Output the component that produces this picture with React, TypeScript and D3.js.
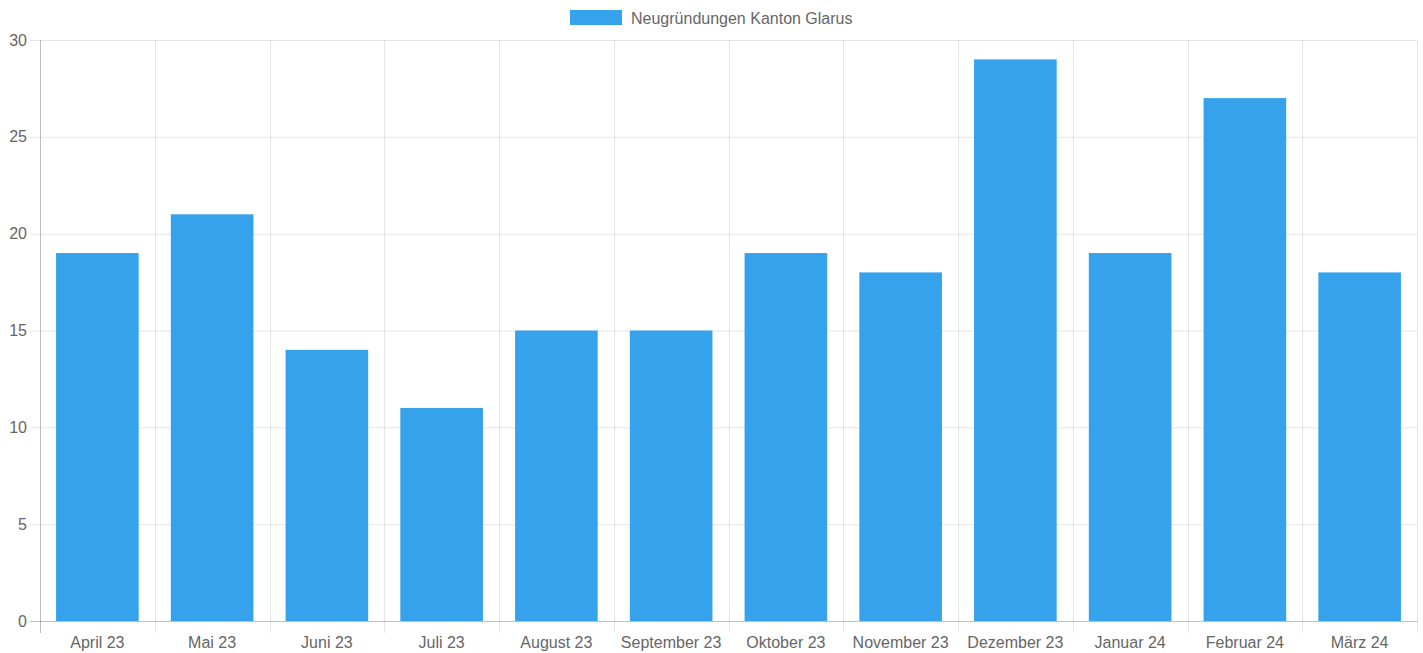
import React, { useEffect, useRef } from 'react';
import * as d3 from 'd3';

const months = ['April 23', 'Mai 23', 'Juni 23', 'Juli 23', 'August 23', 'September 23', 'Oktober 23', 'November 23', 'Dezember 23', 'Januar 24', 'Februar 24', 'März 24'];
const counts = [19, 21, 14, 11, 15, 15, 19, 18, 29, 19, 27, 18];
const yTicks = [0, 5, 10, 15, 20, 25, 30];
const seriesName = 'Neugründungen Kanton Glarus';

const W = 1423;
const H = 653;
const left = 40, right = 1417, top = 40, bottom = 621;
const font = '"Liberation Sans", Arial, Helvetica, sans-serif';

export default function App() {
  const ref = useRef<SVGSVGElement>(null);

  useEffect(() => {
    const svg = d3.select(ref.current);
    svg.selectAll('*').remove();

    const x = d3.scaleBand().domain(months).range([left, right]);
    const y = d3.scaleLinear().domain([0, 30]).range([bottom, top]);

    const g = svg.append('g');

    // grid lines, horizontal
    g.selectAll('line.hgrid')
      .data(yTicks)
      .enter().append('line')
      .attr('x1', left - 10)
      .attr('x2', right)
      .attr('y1', d => y(d) + 0.5)
      .attr('y2', d => y(d) + 0.5)
      .attr('stroke', d => (d === 0 ? 'rgba(0,0,0,0.25)' : 'rgba(0,0,0,0.1)'));

    // grid lines, vertical (category boundaries)
    const bounds = months.map(m => x(m)!).concat([right]);
    g.selectAll('line.vgrid')
      .data(bounds)
      .enter().append('line')
      .attr('x1', d => Math.round(d) + 0.5)
      .attr('x2', d => Math.round(d) + 0.5)
      .attr('y1', top)
      .attr('y2', bottom + 12)
      .attr('stroke', (d, i) => (i === 0 ? 'rgba(0,0,0,0.25)' : 'rgba(0,0,0,0.1)'));

    // bars
    const bw = x.bandwidth() * 0.72;
    g.selectAll('rect.bar')
      .data(counts)
      .enter().append('rect')
      .attr('x', (d, i) => x(months[i])! + (x.bandwidth() - bw) / 2)
      .attr('y', d => y(d))
      .attr('width', bw)
      .attr('height', d => y(0) - y(d))
      .attr('fill', '#36a2eb');

    // y tick labels
    g.selectAll('text.ylab')
      .data(yTicks)
      .enter().append('text')
      .attr('x', left - 13)
      .attr('y', d => y(d) + 5.5)
      .attr('text-anchor', 'end')
      .attr('font-family', font)
      .attr('font-size', 16)
      .attr('fill', '#666')
      .text(d => d);

    // x labels
    g.selectAll('text.xlab')
      .data(months)
      .enter().append('text')
      .attr('x', d => x(d)! + x.bandwidth() / 2)
      .attr('y', bottom + 27)
      .attr('text-anchor', 'middle')
      .attr('font-family', font)
      .attr('font-size', 16)
      .attr('fill', '#666')
      .text(d => d);

    // legend
    g.append('rect')
      .attr('x', 570)
      .attr('y', 10)
      .attr('width', 52)
      .attr('height', 15)
      .attr('fill', '#36a2eb');
    g.append('text')
      .attr('x', 631)
      .attr('y', 23.5)
      .attr('font-family', font)
      .attr('font-size', 16)
      .attr('fill', '#666')
      .text(seriesName);
  }, []);

  return (
    <svg ref={ref} width={W} height={H} style={{ position: 'absolute', left: 0, top: 0 }} />
  );
}
